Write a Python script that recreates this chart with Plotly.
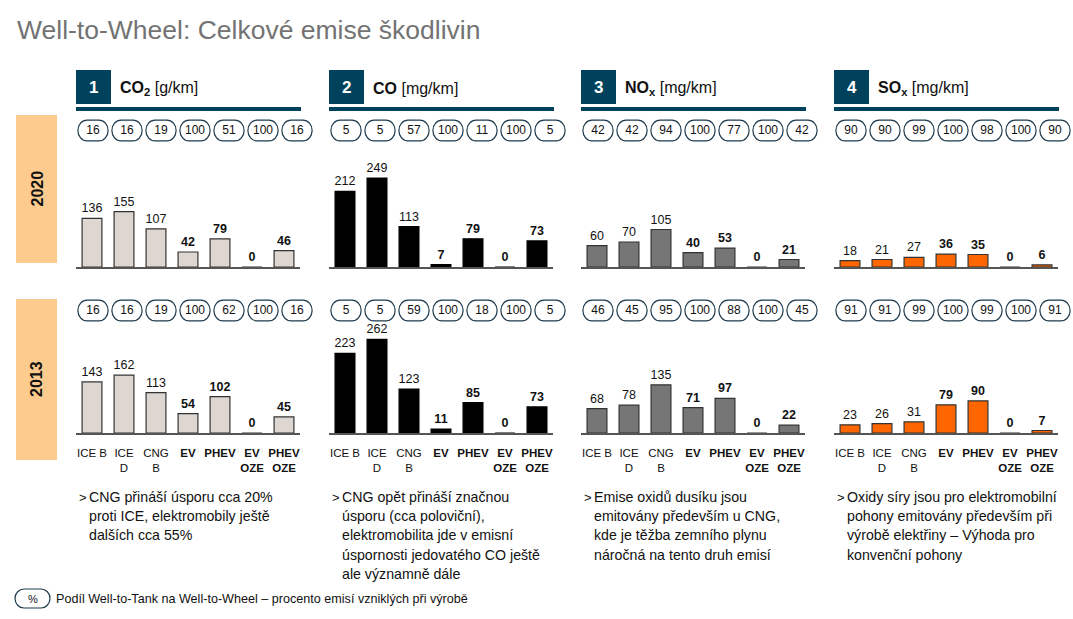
import plotly.graph_objects as go

# ---------------- data ----------------
categories = ["ICE B", "ICE D", "CNG B", "EV", "PHEV", "EV OZE", "PHEV OZE"]
tick_labels = ["ICE B", "ICE<br>D", "CNG<br>B", "<b>EV</b>", "<b>PHEV</b>",
               "<b>EV</b><br><b>OZE</b>", "<b>PHEV</b><br><b>OZE</b>"]
bold_cat = [False, False, False, True, True, True, True]

panel_numbers = ["1", "2", "3", "4"]
panel_titles = ["<b>CO<sub>2</sub></b> [g/km]", "<b>CO</b> [mg/km]",
                "<b>NO<sub>x</sub></b> [mg/km]", "<b>SO<sub>x</sub></b> [mg/km]"]
years = ["2020", "2013"]

co2_2020 = [136, 155, 107, 42, 79, 0, 46]
co_2020 = [212, 249, 113, 7, 79, 0, 73]
nox_2020 = [60, 70, 105, 40, 53, 0, 21]
sox_2020 = [18, 21, 27, 36, 35, 0, 6]

co2_2013 = [143, 162, 113, 54, 102, 0, 45]
co_2013 = [223, 262, 123, 11, 85, 0, 73]
nox_2013 = [68, 78, 135, 71, 97, 0, 22]
sox_2013 = [23, 26, 31, 79, 90, 0, 7]

# Well-to-Tank share (%)
wtt_co2_2020 = [16, 16, 19, 100, 51, 100, 16]
wtt_co_2020 = [5, 5, 57, 100, 11, 100, 5]
wtt_nox_2020 = [42, 42, 94, 100, 77, 100, 42]
wtt_sox_2020 = [90, 90, 99, 100, 98, 100, 90]

wtt_co2_2013 = [16, 16, 19, 100, 62, 100, 16]
wtt_co_2013 = [5, 5, 59, 100, 18, 100, 5]
wtt_nox_2013 = [46, 45, 95, 100, 88, 100, 45]
wtt_sox_2013 = [91, 91, 99, 100, 99, 100, 91]

notes_co2 = ["CNG přináší úsporu cca 20%", "proti ICE, elektromobily ještě", "dalších cca 55%"]
notes_co = ["CNG opět přináší značnou", "úsporu (cca poloviční),", "elektromobilita jde v emisní",
            "úspornosti jedovatého CO ještě", "ale významně dále"]
notes_nox = ["Emise oxidů dusíku jsou", "emitovány především u CNG,", "kde je těžba zemního plynu",
             "náročná na tento druh emisí"]
notes_sox = ["Oxidy síry jsou pro elektromobilní", "pohony emitovány především při",
             "výrobě elektřiny – Výhoda pro", "konvenční pohony"]

title_text = "Well-to-Wheel: Celkové emise škodlivin"
legend_text = "Podíl Well-to-Tank na Well-to-Wheel – procento emisí vzniklých při výrobě"

values = [[co2_2020, co2_2013], [co_2020, co_2013], [nox_2020, nox_2013], [sox_2020, sox_2013]]
wtt = [[wtt_co2_2020, wtt_co2_2013], [wtt_co_2020, wtt_co_2013],
       [wtt_nox_2020, wtt_nox_2013], [wtt_sox_2020, wtt_sox_2013]]
notes = [notes_co2, notes_co, notes_nox, notes_sox]

# ---------------- styling ----------------
W, H = 1073, 619
FONT = "Liberation Sans Narrow, Arial Narrow, Liberation Sans, Arial, sans-serif"
NAVY = "#00425B"
bar_fill = ["#DDD6D1", "#000000", "#767676", "#FF6600"]
bar_line = ["#333333", "#000000", "#333333", "#333333"]
panel_x0 = [76, 329, 581, 834]
bar_base = [267, 433]      # baseline pixel y per year row
pill_top = [120, 300]
y_max = 280                # common value scale across panels


def fx(px):
    return px / W


def fy(py):
    return 1 - py / H


fig = go.Figure()
layout = {}
shapes = []
annotations = []

for p in range(4):
    x0 = panel_x0[p]
    for r in range(2):
        # ---- bar subplot ----
        n = 1 + p * 2 + r
        xa, ya = f"xaxis{n}", f"yaxis{n}"
        xr, yr = f"x{n}", f"y{n}"
        vals = values[p][r]
        txt = [f"<b>{v}</b>" if b else f"{v}" for v, b in zip(vals, bold_cat)]
        fig.add_trace(go.Bar(
            x=list(range(len(categories))), y=vals, xaxis=xr, yaxis=yr,
            width=0.62, marker=dict(color=bar_fill[p], line=dict(color=bar_line[p], width=1.2)),
            text=txt, textposition="outside", cliponaxis=False, constraintext="none",
            textfont=dict(family=FONT, size=12.5, color="#111111"),
            hoverinfo="skip", showlegend=False,
        ))
        layout[xa] = dict(
            domain=[fx(x0), fx(x0 + 224)], range=[-0.5, 6.5], anchor=yr,
            showgrid=False, zeroline=False, showline=True, linecolor="#555555", linewidth=2,
            tickmode="array", tickvals=list(range(len(categories))), ticktext=tick_labels,
            showticklabels=(r == 1), ticks="outside", ticklen=8, tickcolor="rgba(0,0,0,0)",
            tickangle=0,
            tickfont=dict(family=FONT, size=11.5, color="#111111"), fixedrange=True,
        )
        layout[ya] = dict(
            domain=[fy(bar_base[r]), fy(bar_base[r] - 100)], range=[0, y_max], anchor=xr,
            visible=False, fixedrange=True,
        )

        # ---- pill subplot (Well-to-Tank share) ----
        m = 9 + p * 2 + r
        xa2, ya2 = f"xaxis{m}", f"yaxis{m}"
        xr2, yr2 = f"x{m}", f"y{m}"
        shares = wtt[p][r]
        fig.add_trace(go.Scatter(
            x=list(range(len(shares))), y=[0.5] * len(shares), xaxis=xr2, yaxis=yr2,
            mode="text", text=[str(s) for s in shares],
            textfont=dict(family=FONT, size=12, color="#111111"),
            hoverinfo="skip", showlegend=False,
        ))
        layout[xa2] = dict(domain=[fx(x0), fx(x0 + 238)], range=[-0.5, 6.5], anchor=yr2,
                           visible=False, fixedrange=True)
        top = pill_top[r] - 2
        layout[ya2] = dict(domain=[fy(top + 25), fy(top)], range=[-0.1, 1.1], anchor=xr2,
                           visible=False, fixedrange=True)
        hw, rx, K = 0.445, 0.27, 0.5523
        for i in range(len(shares)):
            c = i
            a, b = c - hw, c + hw
            path = (f"M {a+rx},1 L {b-rx},1 "
                    f"C {b-rx+K*rx},1 {b},{0.5+K*0.5} {b},0.5 "
                    f"C {b},{0.5-K*0.5} {b-rx+K*rx},0 {b-rx},0 "
                    f"L {a+rx},0 "
                    f"C {a+rx-K*rx},0 {a},{0.5-K*0.5} {a},0.5 "
                    f"C {a},{0.5+K*0.5} {a+rx-K*rx},1 {a+rx},1 Z")
            shapes.append(dict(type="path", path=path, xref=xr2, yref=yr2,
                               line=dict(color="#1E3A4C", width=1.2), fillcolor="rgba(0,0,0,0)"))

    # ---- panel header ----
    shapes.append(dict(type="rect", xref="paper", yref="paper",
                       x0=fx(x0), x1=fx(x0 + 35), y0=fy(104), y1=fy(70),
                       fillcolor=NAVY, line=dict(width=0)))
    shapes.append(dict(type="rect", xref="paper", yref="paper",
                       x0=fx(x0), x1=fx(x0 + 225), y0=fy(111), y1=fy(107),
                       fillcolor=NAVY, line=dict(width=0)))
    annotations.append(dict(text=f"<b>{panel_numbers[p]}</b>", x=fx(x0 + 17.5), y=fy(87),
                            xref="paper", yref="paper", showarrow=False,
                            xanchor="center", yanchor="middle",
                            font=dict(family=FONT, size=17, color="white")))
    annotations.append(dict(text=panel_titles[p], x=fx(x0 + 42), y=fy(88),
                            xref="paper", yref="paper", showarrow=False,
                            xanchor="left", yanchor="middle",
                            font=dict(family=FONT, size=16, color="#111111")))

    # ---- notes ----
    annotations.append(dict(text=">", x=fx(x0 + 1), y=fy(497), xref="paper", yref="paper",
                            showarrow=False, xanchor="left", yanchor="middle",
                            font=dict(family=FONT, size=13, color="#111111")))
    for k, line in enumerate(notes[p]):
        annotations.append(dict(text=line, x=fx(x0 + 11), y=fy(497 + k * 19.2),
                                xref="paper", yref="paper", showarrow=False,
                                xanchor="left", yanchor="middle",
                                font=dict(family=FONT, size=14.2, color="#111111")))

# ---- year bands ----
band_y = [(115, 263), (299, 460)]
for r, (t, b) in enumerate(band_y):
    shapes.append(dict(type="rect", xref="paper", yref="paper", layer="below",
                       x0=fx(16), x1=fx(57), y0=fy(b), y1=fy(t),
                       fillcolor="#FDCB8E", line=dict(width=0)))
    annotations.append(dict(text=f"<b>{years[r]}</b>", x=fx(36.5), y=fy((t + b) / 2),
                            xref="paper", yref="paper", showarrow=False, textangle=-90,
                            xanchor="center", yanchor="middle",
                            font=dict(family=FONT, size=16, color="#111111")))

# ---- title ----
annotations.append(dict(text=title_text, x=fx(15), y=fy(30), xref="paper", yref="paper",
                        showarrow=False, xanchor="left", yanchor="middle",
                        font=dict(family=FONT, size=26.5, color="#737373")))

# ---- legend pill ----
lx0, lx1, ly0, ly1 = 15, 50, 589, 608
rxp = 9
K = 0.5523
ym = (ly0 + ly1) / 2
hh = (ly1 - ly0) / 2
pts = (f"M {fx(lx0+rxp)},{fy(ly0)} L {fx(lx1-rxp)},{fy(ly0)} "
       f"C {fx(lx1-rxp+K*rxp)},{fy(ly0)} {fx(lx1)},{fy(ym-K*hh)} {fx(lx1)},{fy(ym)} "
       f"C {fx(lx1)},{fy(ym+K*hh)} {fx(lx1-rxp+K*rxp)},{fy(ly1)} {fx(lx1-rxp)},{fy(ly1)} "
       f"L {fx(lx0+rxp)},{fy(ly1)} "
       f"C {fx(lx0+rxp-K*rxp)},{fy(ly1)} {fx(lx0)},{fy(ym+K*hh)} {fx(lx0)},{fy(ym)} "
       f"C {fx(lx0)},{fy(ym-K*hh)} {fx(lx0+rxp-K*rxp)},{fy(ly0)} {fx(lx0+rxp)},{fy(ly0)} Z")
shapes.append(dict(type="path", path=pts, xref="paper", yref="paper",
                   line=dict(color="#1E3A4C", width=1.2), fillcolor="rgba(0,0,0,0)"))
annotations.append(dict(text="%", x=fx(32.5), y=fy(ym), xref="paper", yref="paper",
                        showarrow=False, xanchor="center", yanchor="middle",
                        font=dict(family=FONT, size=11, color="#111111")))
annotations.append(dict(text=legend_text, x=fx(54), y=fy(ym), xref="paper", yref="paper",
                        showarrow=False, xanchor="left", yanchor="middle",
                        font=dict(family=FONT, size=12.6, color="#111111")))

fig.update_layout(
    width=W, height=H, margin=dict(l=0, r=0, t=0, b=0),
    paper_bgcolor="white", plot_bgcolor="rgba(0,0,0,0)",
    shapes=shapes, annotations=annotations, showlegend=False,
    font=dict(family=FONT), bargap=0.38,
    **layout,
)

fig.write_html("out.html", config={"displayModeBar": False},
               post_script="document.body.style.margin='0';document.body.style.overflow='hidden';")
